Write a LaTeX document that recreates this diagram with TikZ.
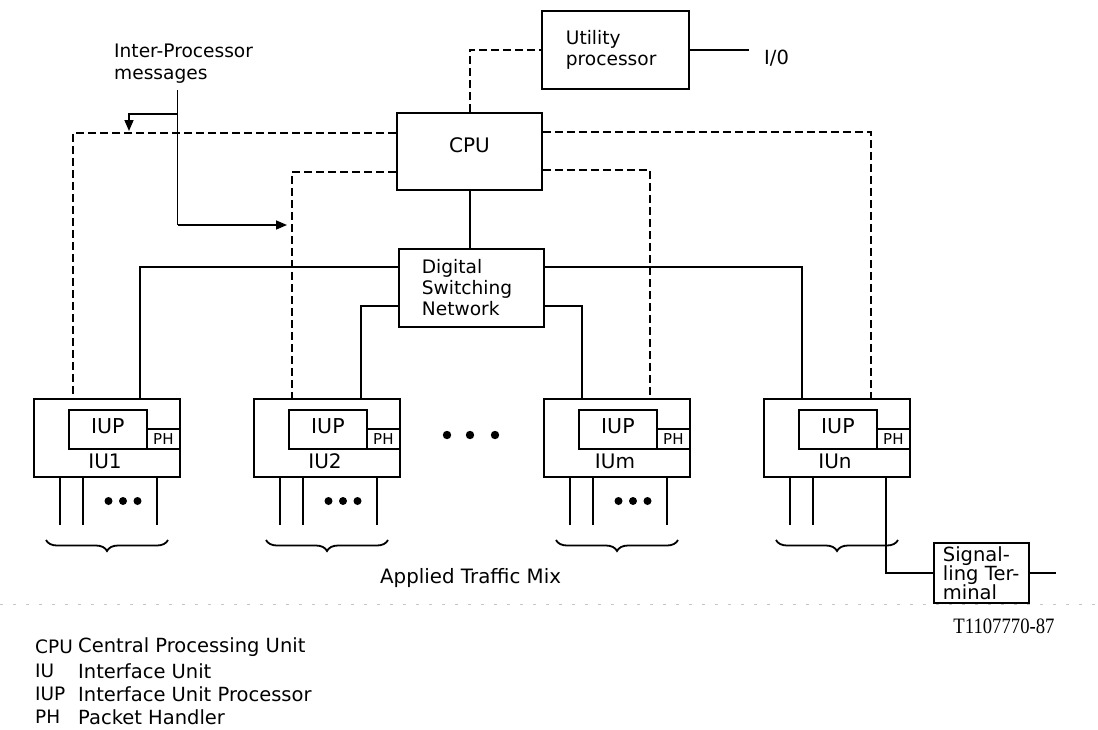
\documentclass[tikz,border=0pt]{standalone}
\usepackage{fontspec}
\setmainfont{DejaVu Sans}
\newfontfamily\serifnum{Liberation Serif}
\usetikzlibrary{arrows.meta,decorations.pathreplacing}
\begin{document}
\begin{tikzpicture}[x=1pt,y=-1pt,
  box/.style={draw, line width=1.8pt, rectangle, inner sep=0pt},
  sline/.style={line width=2pt},
  thin line/.style={line width=1.6pt},
  dline/.style={line width=2pt, dash pattern=on 8pt off 4pt},
  lbl/.style={font=\fontsize{18.6}{21}\selectfont, inner sep=0pt},
  legab/.style={font=\fontsize{18.5}{21}\selectfont, inner sep=0pt, anchor=west},
  leg/.style={font=\fontsize{19.5}{21}\selectfont, inner sep=0pt, anchor=west},
  arr/.style={-{Triangle[length=11pt,width=9pt]}},
  bracestyle/.style={line width=1.8pt, decorate, decoration={brace, mirror, amplitude=11pt}},
  dotfill/.style={fill=black}
]
\useasboundingbox (0,0) rectangle (1098,729);
\fill[white] (0,0) rectangle (1098,729);

% main boxes
\node[box, minimum width=145pt, minimum height=77pt, font=\fontsize{20}{24}\selectfont, text depth=13pt] (cpu) at (469.5,151.5) {CPU};
\node[box, lbl, anchor=north west, minimum width=147pt, minimum height=78pt, text width=99pt, inner xsep=24pt, align=left] (util) at (541,10) {Utility\\processor};
\node[box, lbl, anchor=north west, minimum width=145pt, minimum height=78pt, text width=99pt, inner xsep=23pt, align=left] (dsn) at (398,248) {Digital\\Switching\\Network};
\node[box, anchor=north west, minimum width=95pt, minimum height=60pt, text width=77pt, inner xsep=9pt, inner ysep=0pt, align=left, font=\fontsize{19.5}{19}\selectfont] (sig) at (933,542) {Signal-\\ling Ter-\\minal};

% interface units
\foreach \id/\xl/\nm in {1/33/IU1,2/253/IU2,m/543/IUm,n/763/IUn}{
  \node[box, anchor=north west, minimum width=146pt, minimum height=78pt] (iu\id) at (\xl,398) {};
  \node[box, anchor=north west, minimum width=78pt, minimum height=39pt, font=\fontsize{20.5}{20}\selectfont, text depth=6pt] (iup\id) at (\xl+35,409) {IUP};
  \node[box, anchor=north west, minimum width=33pt, minimum height=20pt, font=\fontsize{15}{15}\selectfont] (ph\id) at (\xl+113,428) {PH};
  \node[lbl, font=\fontsize{20}{20}\selectfont] (lab\id) at (\xl+72,461) {\nm};
  \draw[sline] (\xl+27,0 |- iu\id.south) -- (\xl+27,525);
  \draw[sline] (\xl+50,0 |- iu\id.south) -- (\xl+50,525);
  \draw[bracestyle] (\xl+13,540) -- (\xl+135,540);
}
\foreach \id/\xl in {1/33,2/253,m/543}{
  \draw[sline] (\xl+124,0 |- iu\id.south) -- (\xl+124,525);
  \foreach \dx in {75.5,90,104.5}{
    \fill[dotfill] (\xl+\dx,501) circle (4);
  }
}

% middle dots
\foreach \dx in {447,470,495}{
  \fill[dotfill] (\dx,435) circle (4.2);
}

% CPU connections
\draw[sline] (cpu.south) -- (cpu.south |- dsn.north);
\draw[dline] (cpu.north) |- (util.west);
\draw[dline] (cpu.west |- 0,133) -| (73,0 |- iu1.north);
\draw[dline] (cpu.west |- 0,172) -| (292,0 |- iu2.north);
\draw[dline] (cpu.east |- 0,132) -| (871,0 |- iun.north);
\draw[dline] (cpu.east |- 0,170) -| (650,0 |- ium.north);

% DSN connections
\draw[sline] (dsn.west |- 0,267) -| (140,0 |- iu1.north);
\draw[sline] (dsn.west |- 0,306) -| (361,0 |- iu2.north);
\draw[sline] (dsn.east |- 0,267) -| (802,0 |- iun.north);
\draw[sline] (dsn.east |- 0,306) -| (582,0 |- ium.north);

% utility I/O
\coordinate (io) at (749,0 |- util.east);
\draw[sline] (util.east) -- (io);
\node[lbl, font=\fontsize{19.5}{19}\selectfont, anchor=west] (iotext) at (764,58) {I/0};

% signalling terminal
\draw[sline] (886,0 |- iun.south) |- (sig.west);
\coordinate (sigout) at (1056,0 |- sig.east);
\draw[sline] (sig.east) -- (sigout);

% inter-processor messages
\node[lbl, anchor=west, align=left, font=\fontsize{18.6}{22}\selectfont] (ipmtext) at (114,64) {Inter-Processor\\messages};
\coordinate (ipm) at (177.5,90);
\coordinate (ipmj) at (177.5,114);
\coordinate (ipmk) at (177.5,225);
\coordinate (tipL) at (129,131);
\coordinate (tipR) at (287,225);
\draw[thin line] (ipm) -- (ipmk);
\draw[thin line, arr] (ipmk) -- (tipR);
\draw[thin line, arr] (ipmj) -| (tipL);

% labels
\node[lbl, font=\fontsize{19.8}{21}\selectfont, anchor=west] (atm) at (380,578) {Applied Traffic Mix};

% scan line
\draw[gray!45, line width=1pt, dash pattern=on 3pt off 10pt] (0,604) -- (1098,604);

\node[inner sep=0pt] (fig) at (1004,626) {\scalebox{0.85}[1]{\serifnum\fontsize{22}{22}\selectfont T1107770-87}};

% legend
\node[legab] (l1a) at (35,647) {CPU};
\node[leg] (l1b) at (78,647) {Central Processing Unit};
\node[legab] (l2a) at (35,671) {IU};
\node[leg] (l2b) at (78,671) {Interface Unit};
\node[legab] (l3a) at (35,694) {IUP};
\node[leg] (l3b) at (78,694) {Interface Unit Processor};
\node[legab] (l4a) at (35,717) {PH};
\node[leg] (l4b) at (78,717) {Packet Handler};
\end{tikzpicture}
\end{document}
